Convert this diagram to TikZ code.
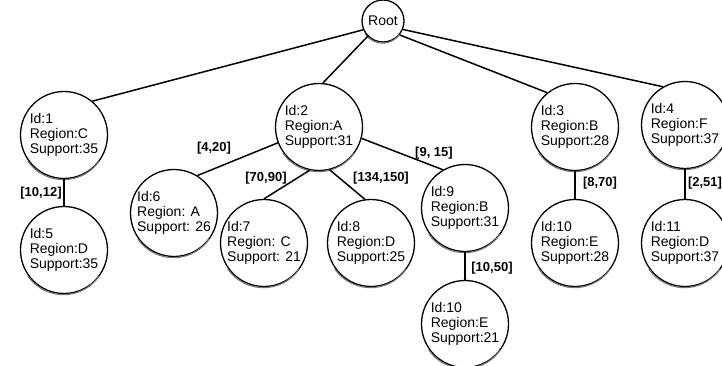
\documentclass[tikz,border=0pt]{standalone}
\usepackage{fontspec}
\setmainfont{Liberation Sans}
\begin{document}
\begin{tikzpicture}[x=1pt,y=-1pt,
  item/.style={circle,draw,line width=1.3pt,minimum size=87pt,inner sep=0pt,
    align=left,font=\fontsize{14}{15}\selectfont},
  rootnode/.style={circle,draw,line width=1.3pt,minimum size=42pt,inner sep=0pt,
    font=\fontsize{14}{15}\selectfont},
  link/.style={line width=1.5pt},
  rim/.style={line width=1.1pt,black!55},
  intlabel/.style={font=\bfseries\fontsize{13}{13}\selectfont,inner sep=0pt}]
\useasboundingbox (0,0) rectangle (722,366);

% tree nodes
\node[rootnode] (root) at (383,21) {Root};
\node[item] (n1) at (64,135) {Id:1\\Region:C\\Support:35};
\node[item] (n2) at (319,127) {Id:2\\Region:A\\Support:31};
\node[item] (n3) at (575,127) {Id:3\\Region:B\\Support:28};
\node[item] (n4) at (685,125) {Id:4\\Region:F\\Support:37};
\node[item] (n5) at (64,250) {Id:5\\Region:D\\Support:35};
\node[item] (n6) at (174,213) {Id:6\\Region: A\\Support: 26};
\node[item] (n7) at (264,243) {Id:7\\Region: C\\Support: 21};
\node[item] (n8) at (371,243) {Id:8\\Region:D\\Support:25};
\node[item] (n9) at (465,208) {Id:9\\Region:B\\Support:31};
\node[item] (n10a) at (465,324) {Id:10\\Region:E\\Support:21};
\node[item] (n10b) at (575,243) {Id:10\\Region:E\\Support:28};
\node[item] (n11) at (685,243) {Id:11\\Region:D\\Support:37};

% heavier lower rim on each circle
\foreach \n in {n1,n2,n3,n4,n5,n6,n7,n8,n9,n10a,n10b,n11}
  \draw[rim] ([yshift=-0.8pt]\n.215) arc[start angle=215,end angle=325,radius=43.5pt];
\draw[rim] ([yshift=-0.8pt]root.215) arc[start angle=215,end angle=325,radius=21pt];

% connectors
\draw[link] (root.204) -- (n1.50);
\draw[link] (root.225) -- (n2.85);
\draw[link] (root.320) -- (n3.129);
\draw[link] (root.337) -- (n4.120);
\draw[link] (n1.south) -- (n5.north);
\draw[link] (n2.201) -- (n6.58);
\draw[link] (n2.258) -- (n7.90);
\draw[link] (n2.284) -- (n8.98);
\draw[link] (n2.345) -- (n9.120);
\draw[link] (n9.south) -- (n10a.north);
\draw[link] (n3.south) -- (n10b.north);
\draw[link] (n4.south) -- (n11.north);

% interval labels
\node[intlabel] (r1) at (41,193) {[10,12]};
\node[intlabel] (r2) at (214,148) {[4,20]};
\node[intlabel] (r3) at (266,178) {[70,90]};
\node[intlabel] (r4) at (381,178) {[134,150]};
\node[intlabel] (r5) at (434,153) {[9, 15]};
\node[intlabel] (r6) at (492,268) {[10,50]};
\node[intlabel] (r7) at (600,183) {[8,70]};
\node[intlabel] (r8) at (705,183) {[2,51]};
\end{tikzpicture}
\end{document}
